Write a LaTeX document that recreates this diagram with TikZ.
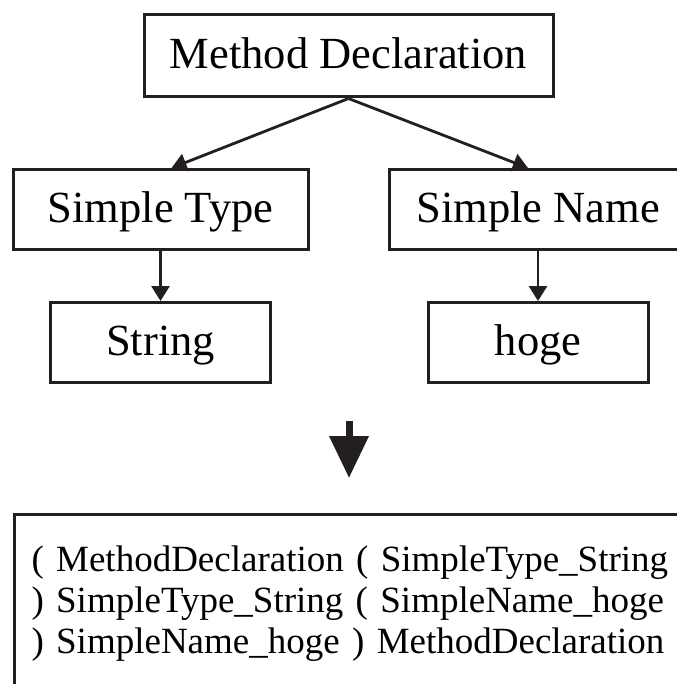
\documentclass[tikz,border=0pt]{standalone}
\usepackage{fontspec}
\setmainfont{Liberation Serif}
\usetikzlibrary{arrows.meta,positioning}
\definecolor{ink}{HTML}{231F20}
\tikzset{
  treebox/.style={draw=ink, line width=3pt, minimum width=295pt, minimum height=80pt, text height=26pt, text depth=0pt, inner sep=0pt, font=\fontsize{44.5}{50}\selectfont},
  leafbox/.style={treebox, minimum width=220pt},
  arr/.style={-{Triangle[width=18pt,length=15pt]}, line width=2.8pt, ink},
  bigarr/.style={-{Triangle[width=38pt,length=42pt]}, line width=7pt, ink},
  seqbox/.style={draw=ink, line width=3pt, anchor=north west, align=left, text width=660pt, inner xsep=17pt, inner ysep=31pt, font=\fontsize{37}{41}\selectfont},
}
\begin{document}
\begin{tikzpicture}[x=1pt,y=-1pt]
  \useasboundingbox (0,0) rectangle (676,684);
  \node[treebox, minimum width=409pt, minimum height=82pt] (md) at (348.5,56) {Method Declaration};
  \node[treebox] (st) at (160.5,209.5) {Simple Type};
  \node[treebox, minimum width=298pt] (sn) at (538,209.5) {Simple Name};
  \node[leafbox, below=50pt of st] (str) {String};
  \node[leafbox, below=50pt of sn] (hoge) {hoge};
  \draw[arr] (md.south) -- ([xshift=11pt]st.north);
  \draw[arr] (md.south) -- ([xshift=-10pt]sn.north);
  \draw[arr] (st) -- (str);
  \draw[arr] (sn) -- (hoge);
  % flattened sequence
  \coordinate (from) at (349,421);
  \coordinate (to) at (349,478);
  \draw[bigarr] (from) -- (to);
  \node[seqbox] (seq) at (13,513) {( MethodDeclaration ( SimpleType\_String\\
    ) SimpleType\_String ( SimpleName\_hoge\\
    ) SimpleName\_hoge ) MethodDeclaration};
\end{tikzpicture}
\end{document}
